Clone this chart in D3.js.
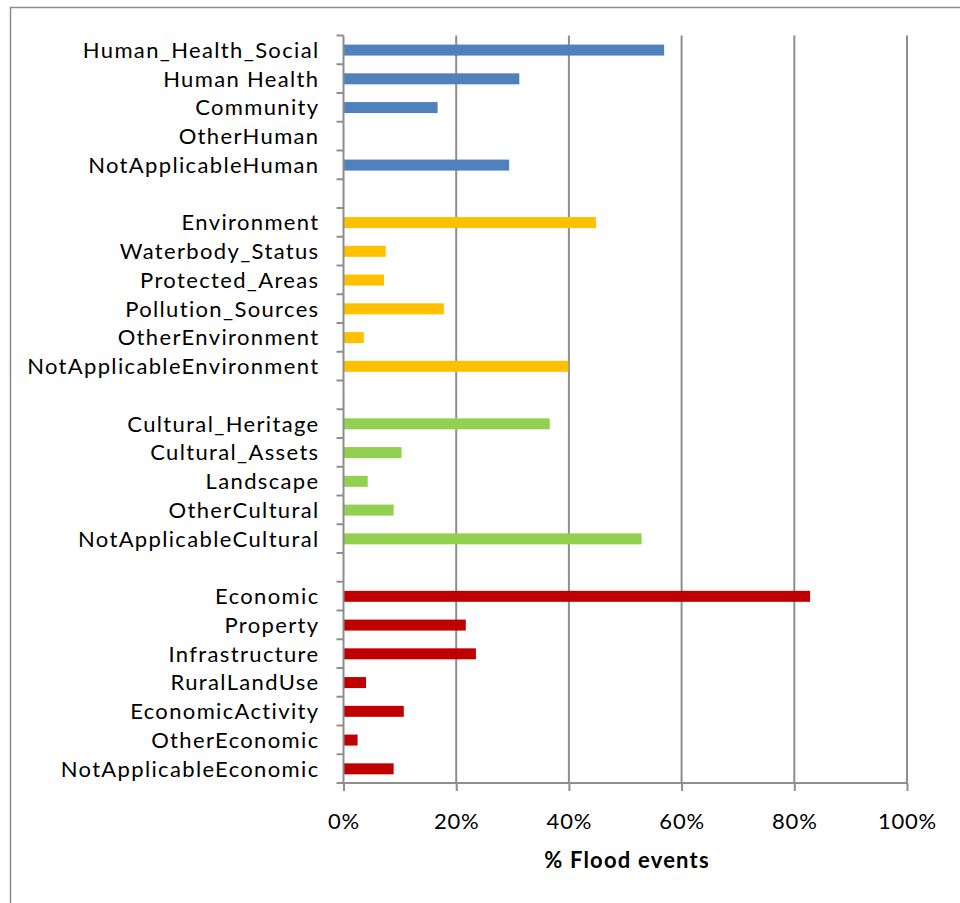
<!DOCTYPE html>
<html>
<head>
<meta charset="utf-8">
<script src="https://cdn.jsdelivr.net/npm/d3@7"></script>
<style>
  html, body { margin: 0; padding: 0; background: #fff; }
  svg text { font-family: Lato, "Open Sans", sans-serif; fill: #000; }
</style>
</head>
<body>
<svg id="chart" width="960" height="903"></svg>
<script>
// Share of flood events per consequence type, grouped by category
const humanCategories = ["Human_Health_Social", "Human Health", "Community", "OtherHuman", "NotApplicableHuman"];
const humanValues = [0.569, 0.312, 0.167, 0, 0.294];

const environmentCategories = ["Environment", "Waterbody_Status", "Protected_Areas", "Pollution_Sources", "OtherEnvironment", "NotApplicableEnvironment"];
const environmentValues = [0.448, 0.075, 0.072, 0.178, 0.036, 0.399];

const culturalCategories = ["Cultural_Heritage", "Cultural_Assets", "Landscape", "OtherCultural", "NotApplicableCultural"];
const culturalValues = [0.366, 0.103, 0.043, 0.089, 0.529];

const economicCategories = ["Economic", "Property", "Infrastructure", "RuralLandUse", "EconomicActivity", "OtherEconomic", "NotApplicableEconomic"];
const economicValues = [0.828, 0.217, 0.235, 0.040, 0.107, 0.025, 0.089];

const xTicks = [0, 0.2, 0.4, 0.6, 0.8, 1.0];
const xTitle = "% Flood events";

const groups = [
  { cats: humanCategories, vals: humanValues, color: "#4f81bd" },
  { cats: environmentCategories, vals: environmentValues, color: "#ffc000" },
  { cats: culturalCategories, vals: culturalValues, color: "#92d050" },
  { cats: economicCategories, vals: economicValues, color: "#c00000" }
];

// Flatten into rows, with an empty spacer row between groups
const rows = [];
groups.forEach((g, gi) => {
  g.cats.forEach((c, i) => rows.push({ key: c, label: c, value: g.vals[i], color: g.color }));
  if (gi < groups.length - 1) rows.push({ key: "gap" + gi, label: "", value: null, color: null });
});

const svg = d3.select("#chart");
const plotLeft = 343.5, plotTop = 35.5, plotRight = 907, plotBottom = 783;

// Outer frame (top and left edges visible)
svg.append("path")
  .attr("d", "M10.5,903 L10.5,7.5 L960,7.5")
  .attr("fill", "none").attr("stroke", "#8c8c8c").attr("stroke-width", 1.5);

const x = d3.scaleLinear().domain([0, 1]).range([plotLeft, plotRight]);
const band = d3.scaleBand().domain(rows.map(r => r.key)).range([plotTop, plotBottom]);

const gridColor = "#8e8e8e";

// Vertical gridlines
svg.append("g").selectAll("line")
  .data(xTicks.filter(t => t > 0))
  .join("line")
  .attr("x1", d => x(d)).attr("x2", d => x(d))
  .attr("y1", plotTop).attr("y2", plotBottom)
  .attr("stroke", gridColor).attr("stroke-width", 2);

// Bars
svg.append("g").selectAll("rect")
  .data(rows.filter(r => r.value !== null && r.value > 0))
  .join("rect")
  .attr("x", x(0))
  .attr("y", d => band(d.key) + band.bandwidth() / 2 - 5.3)
  .attr("width", d => x(d.value) - x(0))
  .attr("height", 11)
  .attr("fill", d => d.color);

// Category axis
const yAxis = svg.append("g")
  .attr("transform", `translate(${plotLeft},0)`);
yAxis.append("line")
  .attr("x1", 0).attr("x2", 0).attr("y1", plotTop).attr("y2", plotBottom)
  .attr("stroke", gridColor).attr("stroke-width", 2);
const boundaries = rows.map(r => band(r.key)).concat([plotBottom]);
yAxis.selectAll("line.tick")
  .data(boundaries)
  .join("line").attr("class", "tick")
  .attr("x1", -7).attr("x2", 0)
  .attr("y1", d => d).attr("y2", d => d)
  .attr("stroke", gridColor).attr("stroke-width", 2);
yAxis.selectAll("text")
  .data(rows.filter(r => r.label))
  .join("text")
  .attr("x", -24)
  .attr("y", d => band(d.key) + band.bandwidth() / 2)
  .attr("dy", "0.36em")
  .attr("text-anchor", "end")
  .attr("font-size", 22)
  .style("letter-spacing", "1.35px")
  .text(d => d.label);

// Value axis
const xAxis = d3.axisBottom(x).tickValues(xTicks).tickFormat(d3.format(".0%")).tickSize(8).tickPadding(22);
const gx = svg.append("g").attr("transform", `translate(0,${plotBottom})`).call(xAxis);
gx.select(".domain").attr("stroke", gridColor).attr("stroke-width", 2).attr("d", `M${plotLeft},0H${plotRight}`);
gx.selectAll(".tick line").attr("stroke", gridColor).attr("stroke-width", 2);
gx.selectAll(".tick text")
  .attr("font-size", 22).attr("fill", "#000")
  .style("font-family", "Lato, sans-serif")
  .style("letter-spacing", "0.8px");

svg.append("text")
  .attr("x", 627).attr("y", 868)
  .attr("text-anchor", "middle")
  .attr("font-size", 22).attr("font-weight", "bold")
  .style("letter-spacing", "1.2px")
  .text(xTitle);
</script>
</body>
</html>
